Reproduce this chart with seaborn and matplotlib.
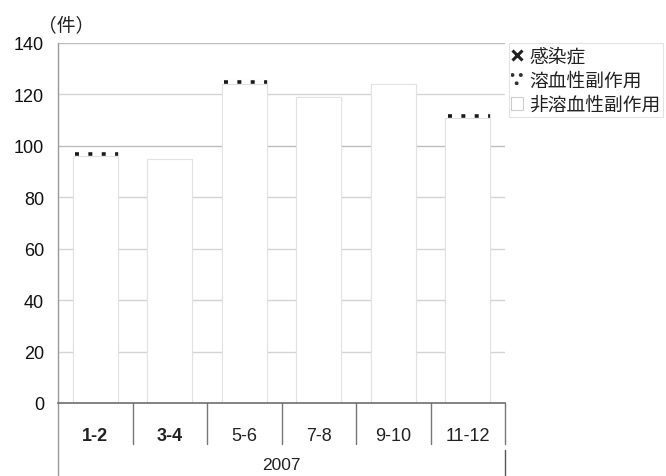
import matplotlib
matplotlib.use("Agg")
import matplotlib.pyplot as plt
from matplotlib.patches import Patch
from matplotlib.lines import Line2D
import seaborn as sns
import pandas as pd
import numpy as np

# Bimonthly counts, 2007
periods = ["1-2", "3-4", "5-6", "7-8", "9-10", "11-12"]
non_hemolytic = [96, 95, 124, 119, 124, 111]   # 非溶血性副作用
hemolytic = [1.5, 0, 1.5, 0, 0, 1.5]           # 溶血性副作用
infection = [0, 0, 0, 0, 0, 0]                 # 感染症
year_label = "2007"
series_names = ["感染症", "溶血性副作用", "非溶血性副作用"]
y_ticks = [0, 20, 40, 60, 80, 100, 120, 140]

sns.set_theme(style="white")
plt.rcParams["font.family"] = ["Liberation Sans", "Noto Sans CJK JP", "DejaVu Sans"]
plt.rcParams["hatch.linewidth"] = 1.6

df = pd.DataFrame({
    "period": periods,
    "non": non_hemolytic,
    "hem": hemolytic,
    "inf": infection,
})
df["lvl1"] = df["non"]
df["lvl2"] = df["non"] + df["hem"]
df["lvl3"] = df["lvl2"] + df["inf"]

fig = plt.figure(figsize=(6.66, 4.77), dpi=100)
ax = fig.add_axes([58 / 666, 1 - 404 / 477, (505 - 58) / 666, (404 - 44) / 477])

# grid first, bars cover it
for v in y_ticks[1:]:
    ax.axhline(v, color="#d4d4d4" if v not in (100, 140) else "#bdbdbd", lw=1.0, zorder=0)

bar_w = 0.6
n = len(periods)

# stacked bars: cumulative heights drawn from top to bottom
sns.barplot(data=df, x="period", y="lvl3", ax=ax, color="white", width=bar_w,
            edgecolor="#dddddd", linewidth=0.8, hatch="xx", zorder=2)
sns.barplot(data=df, x="period", y="lvl2", ax=ax, color="white", width=bar_w,
            linewidth=0, zorder=3)
sns.barplot(data=df, x="period", y="lvl1", ax=ax, color="white", width=bar_w,
            edgecolor="#e2e2e2", linewidth=0.8, zorder=4)

# hemolytic segments rendered as a dotted band on top of each bar
pos = np.arange(n)
mask = df["hem"].to_numpy() > 0
ax.hlines(df["lvl1"].to_numpy()[mask] + df["hem"].to_numpy()[mask] / 2,
          pos[mask] - bar_w / 2 + 0.03, pos[mask] + bar_w / 2,
          colors="#1a1a1a", linestyles=(0, (1.1, 2.6)), linewidth=2.6, zorder=5)

ax.set_xlim(-0.5, n - 0.5)
ax.set_ylim(0, 140)
ax.set_yticks(y_ticks)
ax.tick_params(axis="y", length=0, pad=10, labelsize=13, colors="#111111")
ax.set_xlabel("")
ax.set_ylabel("")

for s in ["top", "right"]:
    ax.spines[s].set_visible(False)
ax.spines["left"].set_color("#9a9a9a")
ax.spines["left"].set_linewidth(1.0)
ax.spines["bottom"].set_color("#6e6e6e")
ax.spines["bottom"].set_linewidth(1.2)
ax.spines["bottom"].set_zorder(6)

# category labels and separators below the axis
ax.set_xticks(pos)
ax.set_xticklabels(periods)
ax.tick_params(axis="x", length=0, pad=17, labelsize=13, colors="#222222")
for i, lab in enumerate(ax.get_xticklabels()):
    if i < 2:
        lab.set_fontweight("bold")

tr = ax.get_xaxis_transform()
for b in np.arange(0.5, n - 0.5, 1.0):
    ax.plot([b, b], [0, -0.115], transform=tr, color="#777777", lw=1.0, clip_on=False)
ax.plot([-0.5, -0.5], [0, -0.21], transform=tr, color="#999999", lw=1.0, clip_on=False)
ax.plot([n - 0.5, n - 0.5], [0, -0.115], transform=tr, color="#777777", lw=1.0, clip_on=False)
ax.plot([n - 0.5, n - 0.5], [-0.13, -0.21], transform=tr, color="#555555", lw=1.0, clip_on=False)
ax.text((n - 1) / 2, -0.172, year_label, transform=tr, ha="center", va="center",
        fontsize=12.5, color="#222222", clip_on=False)

fig.text(66 / 666, 1 - 26 / 477, "（件）", ha="center", va="center", fontsize=13.5,
         color="#222222", family=["Noto Sans CJK JP", "DejaVu Sans"])

handles = [
    Line2D([], [], linestyle="none", marker="x", markersize=7, markeredgewidth=2.2,
           color="#222222"),
    Patch(facecolor="white", edgecolor="#333333", hatch="..", linewidth=0),
    Patch(facecolor="white", edgecolor="#cccccc", linewidth=0.8),
]
leg = fig.legend(handles, series_names, loc="upper left",
                 bbox_to_anchor=(509 / 666, 1 - 44 / 477),
                 prop={"family": ["Noto Sans CJK JP", "DejaVu Sans"], "size": 13.5},
                 frameon=True, fancybox=False, borderpad=0.12, labelspacing=0.18,
                 handlelength=0.65, handleheight=0.65, handletextpad=0.3,
                 borderaxespad=0)
leg.get_frame().set_edgecolor("#dddddd")
leg.get_frame().set_linewidth(0.8)
for t in leg.get_texts():
    t.set_color("#222222")

fig.savefig("out.png", dpi=100, facecolor="white")
